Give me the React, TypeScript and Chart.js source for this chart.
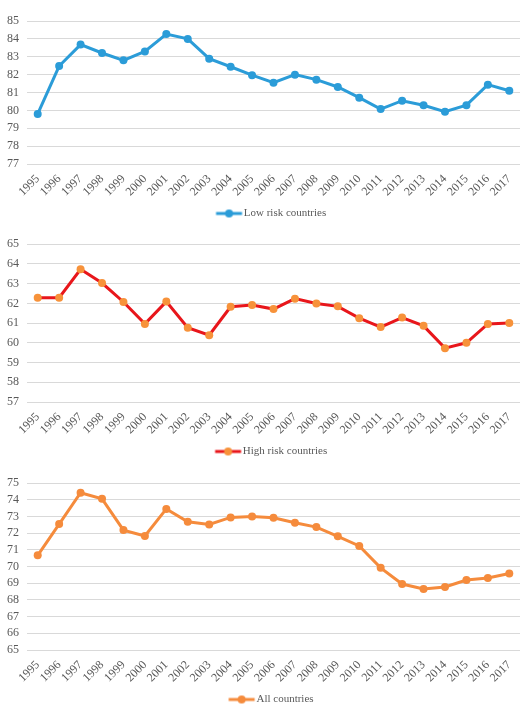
import React, { useEffect, useRef } from "react";
import { Chart, registerables } from "chart.js";

Chart.register(...registerables);

const years = ["1995","1996","1997","1998","1999","2000","2001","2002","2003","2004","2005","2006","2007","2008","2009","2010","2011","2012","2013","2014","2015","2016","2017"];

const lowRisk = [79.8,82.48,83.68,83.21,82.8,83.3,84.27,84.0,82.89,82.44,81.97,81.55,82.0,81.72,81.31,80.71,80.07,80.54,80.29,79.93,80.29,81.44,81.1];
const highRisk = [62.28,62.29,63.73,63.03,62.07,60.96,62.09,60.77,60.39,61.83,61.92,61.71,62.24,61.99,61.85,61.25,60.8,61.28,60.86,59.73,60.0,60.96,61.01];
const allCountries = [70.67,72.54,74.42,74.05,72.18,71.83,73.45,72.68,72.52,72.94,73.0,72.92,72.62,72.36,71.81,71.23,69.92,68.95,68.65,68.77,69.19,69.31,69.58];

const FONT = "'Liberation Serif', 'Times New Roman', serif";
const ICON_W = 41.5;

function legendIcon(line: string, point: string) {
  const c = document.createElement("canvas");
  c.width = 52;
  c.height = 10;
  const ctx = c.getContext("2d")!;
  ctx.strokeStyle = line;
  ctx.lineWidth = 3;
  ctx.beginPath();
  ctx.moveTo(24.5, 5);
  ctx.lineTo(50.5, 5);
  ctx.stroke();
  ctx.fillStyle = point;
  ctx.beginPath();
  ctx.arc(37.5, 5, 4, 0, Math.PI * 2);
  ctx.fill();
  return c;
}

type Props = {
  label: string;
  data: number[];
  min: number;
  max: number;
  line: string;
  point: string;
  height: number;
  top: number;
};

function LineChart({ label, data, min, max, line, point, height, top }: Props) {
  const ref = useRef<HTMLCanvasElement | null>(null);
  useEffect(() => {
    const chart = new Chart(ref.current!, {
      type: "line",
      data: {
        labels: years,
        datasets: [
          {
            label,
            data,
            borderColor: line,
            backgroundColor: point,
            pointBackgroundColor: point,
            pointBorderColor: point,
            pointRadius: 4,
            pointBorderWidth: 0,
            borderWidth: 3,
            tension: 0,
          },
        ],
      },
      options: {
        responsive: false,
        animation: false,
        layout: { padding: { top, left: 0, right: 1, bottom: 0 } },
        plugins: {
          tooltip: { enabled: false },
          legend: {
            position: "bottom",
            labels: {
              usePointStyle: true,
              pointStyle: legendIcon(line, point) as any,
              pointStyleWidth: ICON_W,
              boxHeight: 10,
              color: "#595959",
              font: { family: FONT, size: 11 },
              padding: 10,
            },
          },
        },
        scales: {
          x: {
            offset: true,
            grid: { display: false },
            border: { display: false },
            ticks: {
              autoSkip: false,
              minRotation: 45,
              maxRotation: 45,
              color: "#595959",
              font: { family: FONT, size: 12 },
              padding: 0,
            },
            afterFit: (s: any) => {
              s.height = 34;
            },
          },
          y: {
            min,
            max,
            grid: { color: "#d9d9d9", lineWidth: 1, drawTicks: false },
            border: { display: false },
            ticks: {
              autoSkip: false,
              stepSize: 1,
              color: "#595959",
              font: { family: FONT, size: 12 },
              padding: 8,
            },
            afterFit: (s: any) => {
              s.width = 27;
            },
          },
        },
      },
    });
    return () => chart.destroy();
  }, []);
  return <canvas ref={ref} width={524} height={height} style={{ display: "block" }} />;
}

export default function App() {
  useEffect(() => {
    document.body.style.margin = "0";
    document.body.style.overflow = "hidden";
  }, []);
  return (
    <div style={{ width: 524, background: "#fff" }}>
      <LineChart label="Low risk countries" data={lowRisk} min={77} max={85} line="#2b9cd8" point="#2b9cd8" height={229} top={21} />
      <LineChart label="High risk countries" data={highRisk} min={57} max={65} line="#e8161b" point="#f7923a" height={238} top={15} />
      <LineChart label="All countries" data={allCountries} min={65} max={75} line="#f58b3c" point="#f58b3c" height={248} top={16} />
    </div>
  );
}
